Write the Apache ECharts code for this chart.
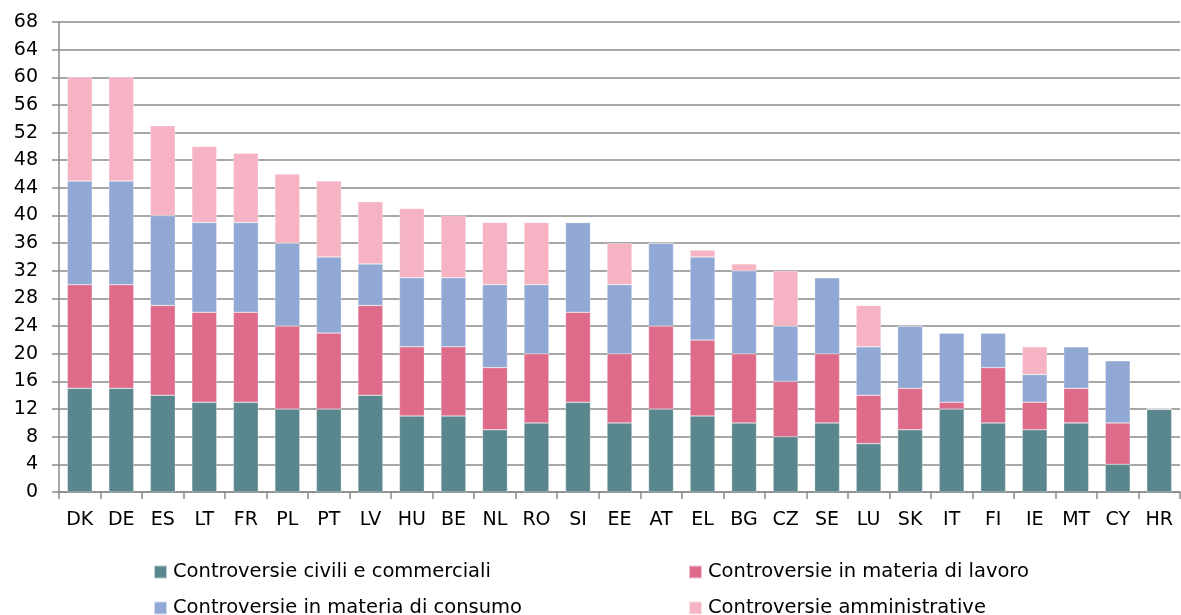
<!DOCTYPE html>
<html>
<head>
<meta charset="utf-8">
<script src="https://cdn.jsdelivr.net/npm/echarts@6/dist/echarts.min.js"></script>
<style>
  html, body { margin: 0; padding: 0; background: #fff; }
  #chart { width: 1181px; height: 615px; }
</style>
</head>
<body>
<div id="chart"></div>
<script>
// dati
var paesi = ['DK','DE','ES','LT','FR','PL','PT','LV','HU','BE','NL','RO','SI','EE','AT','EL','BG','CZ','SE','LU','SK','IT','FI','IE','MT','CY','HR'];
var civili =         [15,15,14,13,13,12,12,14,11,11, 9,10,13,10,12,11,10, 8,10, 7, 9,12,10, 9,10, 4,12];
var lavoro =         [15,15,13,13,13,12,11,13,10,10, 9,10,13,10,12,11,10, 8,10, 7, 6, 1, 8, 4, 5, 6, 0];
var consumo =        [15,15,13,13,13,12,11, 6,10,10,12,10,13,10,12,12,12, 8,11, 7, 9,10, 5, 4, 6, 9, 0];
var amministrative = [15,15,13,11,10,10,11, 9,10, 9, 9, 9, 0, 6, 0, 1, 1, 8, 0, 6, 0, 0, 0, 4, 0, 0, 0];
var nomi = ['Controversie civili e commerciali','Controversie in materia di lavoro','Controversie in materia di consumo','Controversie amministrative'];
var colori = ['#5a878d','#de6b8a','#91a8d4','#f5b3c4'];

var myChart = echarts.init(document.getElementById('chart'));

function serie(i, dati) {
    return {
        name: nomi[i],
        type: 'bar',
        stack: 'tot',
        data: dati,
        barCategoryGap: '40%',
        itemStyle: { color: colori[i], borderColor: 'rgba(255,255,255,0.6)', borderWidth: 0.5 }
    };
}

// una legenda per voce, disposte 2x2
function legenda(i, left, top) {
    return {
        data: [nomi[i]],
        left: left, top: top,
        itemWidth: 13, itemHeight: 13, itemGap: 6,
        icon: 'rect',
        textStyle: { fontFamily: '"DejaVu Sans", sans-serif', fontSize: 19.5, color: '#000', padding: [0, 0, 0, 1] }
    };
}

var option = {
    animation: false,
    textStyle: { fontFamily: '"DejaVu Sans", Verdana, sans-serif' },
    grid: { left: 59, right: 1, top: 22, bottom: 123, containLabel: false },
    legend: [
        legenda(0, 148, 557),
        legenda(1, 683, 557),
        legenda(2, 148, 593),
        legenda(3, 683, 593)
    ],
    xAxis: {
        type: 'category',
        data: paesi,
        axisLine: { lineStyle: { color: '#8a8a8a', width: 1.5 } },
        axisTick: { show: true, length: 7, lineStyle: { color: '#8a8a8a', width: 1.5 } },
        axisLabel: { color: '#000', fontSize: 19, margin: 19 }
    },
    yAxis: {
        type: 'value',
        min: 0, max: 68, interval: 4,
        axisLine: { show: true, lineStyle: { color: '#8a8a8a', width: 1.5 } },
        axisTick: { show: true, length: 7, lineStyle: { color: '#8a8a8a', width: 1.5 } },
        axisLabel: { color: '#000', fontSize: 19, margin: 21 },
        splitLine: { lineStyle: { color: '#8a8a8a', width: 1.5 } }
    },
    series: [serie(0, civili), serie(1, lavoro), serie(2, consumo), serie(3, amministrative)]
};
myChart.setOption(option);
</script>
</body>
</html>
